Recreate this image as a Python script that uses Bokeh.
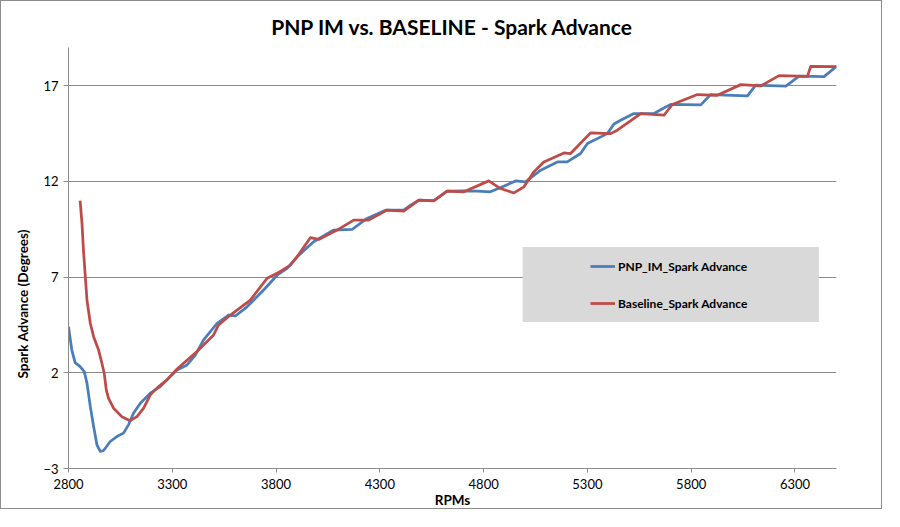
from bokeh.plotting import figure
from bokeh.models import Range1d, FixedTicker, BoxAnnotation, Legend, LegendItem, Title
from bokeh.embed import file_html
from bokeh.resources import INLINE

# ---- data ----
pnp_rpm = [2800, 2816, 2832, 2856, 2876, 2889, 2905, 2921, 2937, 2953, 2969, 3001, 3033,
           3065, 3089, 3113, 3146, 3194, 3242, 3290, 3323, 3371, 3411, 3451, 3516, 3571,
           3604, 3660, 3740, 3805, 3853, 3901, 3981, 4078, 4166, 4238, 4327, 4415, 4448,
           4488, 4560, 4624, 4705, 4770, 4832, 4897, 4954, 5002, 5075, 5155, 5203, 5267,
           5300, 5396, 5428, 5460, 5524, 5620, 5701, 5846, 5894, 6071, 6111, 6256, 6320,
           6440, 6500]
pnp_spark = [4.41, 3.19, 2.53, 2.32, 2.06, 1.46, 0.24, -0.81, -1.76, -2.11, -2.06, -1.59, -1.33,
             -1.15, -0.72, -0.11, 0.41, 0.94, 1.28, 1.8, 2.15, 2.41, 2.93, 3.72, 4.59, 5.02,
             4.97, 5.45, 6.33, 7.1, 7.46, 8.06, 8.85, 9.46, 9.49, 10.07, 10.5, 10.5, 10.76,
             11.02, 11.0, 11.5, 11.51, 11.5, 11.46, 11.75, 12.03, 11.98, 12.59, 13.02, 13.02, 13.46,
             13.98, 14.5, 15.0, 15.2, 15.55, 15.55, 16.03, 16.0, 16.54, 16.47, 17.03, 16.98, 17.5,
             17.48, 18.02]

base_rpm = [2856, 2865, 2872, 2881, 2889, 2905, 2921, 2945, 2961, 2972, 2982, 2993, 3017,
            3057, 3097, 3130, 3162, 3194, 3226, 3274, 3323, 3419, 3499, 3523, 3580, 3612,
            3676, 3757, 3805, 3869, 3901, 3965, 4005, 4094, 4174, 4246, 4335, 4415, 4488,
            4560, 4624, 4705, 4825, 4881, 4946, 4994, 5042, 5090, 5187, 5219, 5315, 5412,
            5444, 5557, 5669, 5709, 5830, 5926, 6039, 6135, 6223, 6360, 6376, 6500]
base_spark = [11.0, 9.81, 8.41, 7.02, 5.80, 4.59, 3.89, 3.19, 2.50, 1.98, 1.11, 0.67, 0.15,
              -0.29, -0.50, -0.29, 0.15, 0.85, 1.20, 1.63, 2.2, 3.11, 3.98, 4.5, 5.02, 5.28,
              5.8, 6.94, 7.2, 7.63, 8.06, 9.06, 8.97, 9.46, 9.98, 9.98, 10.5, 10.45, 11.02,
              10.99, 11.49, 11.46, 12.03, 11.63, 11.40, 11.72, 12.5, 13.02, 13.49, 13.46, 14.54, 14.5,
              14.68, 15.55, 15.46, 16.02, 16.54, 16.5, 17.06, 16.99, 17.53, 17.49, 18.02, 18.0]

x_ticks = [2800, 3300, 3800, 4300, 4800, 5300, 5800, 6300]
y_ticks = [-3, 2, 7, 12, 17]
series_names = ["PNP_IM_Spark Advance", "Baseline_Spark Advance"]
title_text = "PNP IM vs. BASELINE - Spark Advance"
x_label = "RPMs"
y_label = "Spark Advance (Degrees)"

FONT = "Lato"
AXIS_GRAY = "#8c8c8c"

p = figure(width=882, height=509, output_backend="svg", toolbar_location=None,
           x_range=Range1d(2800, 6500), y_range=Range1d(-3, 19),
           min_border_left=67, min_border_right=47, min_border_top=46, min_border_bottom=42,
           title=title_text)
p.styles = {"border": "1px solid #8c8c8c"}
p.outline_line_color = None
p.background_fill_color = "white"
p.border_fill_color = "white"

p.title.align = "center"
p.title.text_font = FONT
p.title.text_font_size = "21px"
p.title.text_font_style = "bold"
p.title.text_color = "black"
p.title.standoff = 18

# axes
for ax in (p.xaxis[0], p.yaxis[0]):
    ax.axis_line_color = AXIS_GRAY
    ax.major_tick_line_color = AXIS_GRAY
    ax.minor_tick_line_color = None
    ax.major_tick_in = 0
    ax.major_label_text_font = FONT
    ax.major_label_text_font_size = "13px"
    ax.major_label_text_color = "black"
    ax.axis_label_text_font = FONT
    ax.axis_label_text_font_size = "13.5px"
    ax.axis_label_text_font_style = "bold"
    ax.axis_label_text_color = "black"

p.xaxis.ticker = FixedTicker(ticks=x_ticks)
p.yaxis.ticker = FixedTicker(ticks=y_ticks)
p.xaxis.major_tick_out = 4
p.yaxis.major_tick_out = 5
p.xaxis.major_label_standoff = 6
p.yaxis.major_label_standoff = 5
p.xaxis.axis_label = x_label
p.xaxis.axis_label_standoff = 0

p.xgrid.grid_line_color = None
p.ygrid.grid_line_color = AXIS_GRAY
p.ygrid.grid_line_width = 1

# y-axis title, placed lower than centre as in the reference
ytitle = Title(text=y_label, align="left", offset=90, vertical_align="bottom", standoff=19,
               text_font=FONT, text_font_size="13.5px", text_font_style="bold",
               text_color="black")
p.add_layout(ytitle, "left")

# legend background box
p.add_layout(BoxAnnotation(left=4988, right=6415, bottom=4.66, top=8.57,
                           fill_color="#d9d9d9", fill_alpha=1.0, line_color=None, level="underlay"))

r1 = p.line(pnp_rpm, pnp_spark, line_color="#4a7ebb", line_width=2.75, line_join="round")
r2 = p.line(base_rpm, base_spark, line_color="#be4b48", line_width=2.75, line_join="round")

legend = Legend(items=[LegendItem(label=series_names[0], renderers=[r1]),
                       LegendItem(label=series_names[1], renderers=[r2])],
                location=(522, 155), orientation="vertical",
                background_fill_alpha=0, border_line_color=None,
                padding=5, margin=0, spacing=17, glyph_width=25, glyph_height=20,
                label_height=20, label_standoff=3,
                label_text_font=FONT, label_text_font_size="12px",
                label_text_font_style="bold", label_text_color="black")
p.add_layout(legend, "center")

open("out.html", "w").write(file_html(p, INLINE))
